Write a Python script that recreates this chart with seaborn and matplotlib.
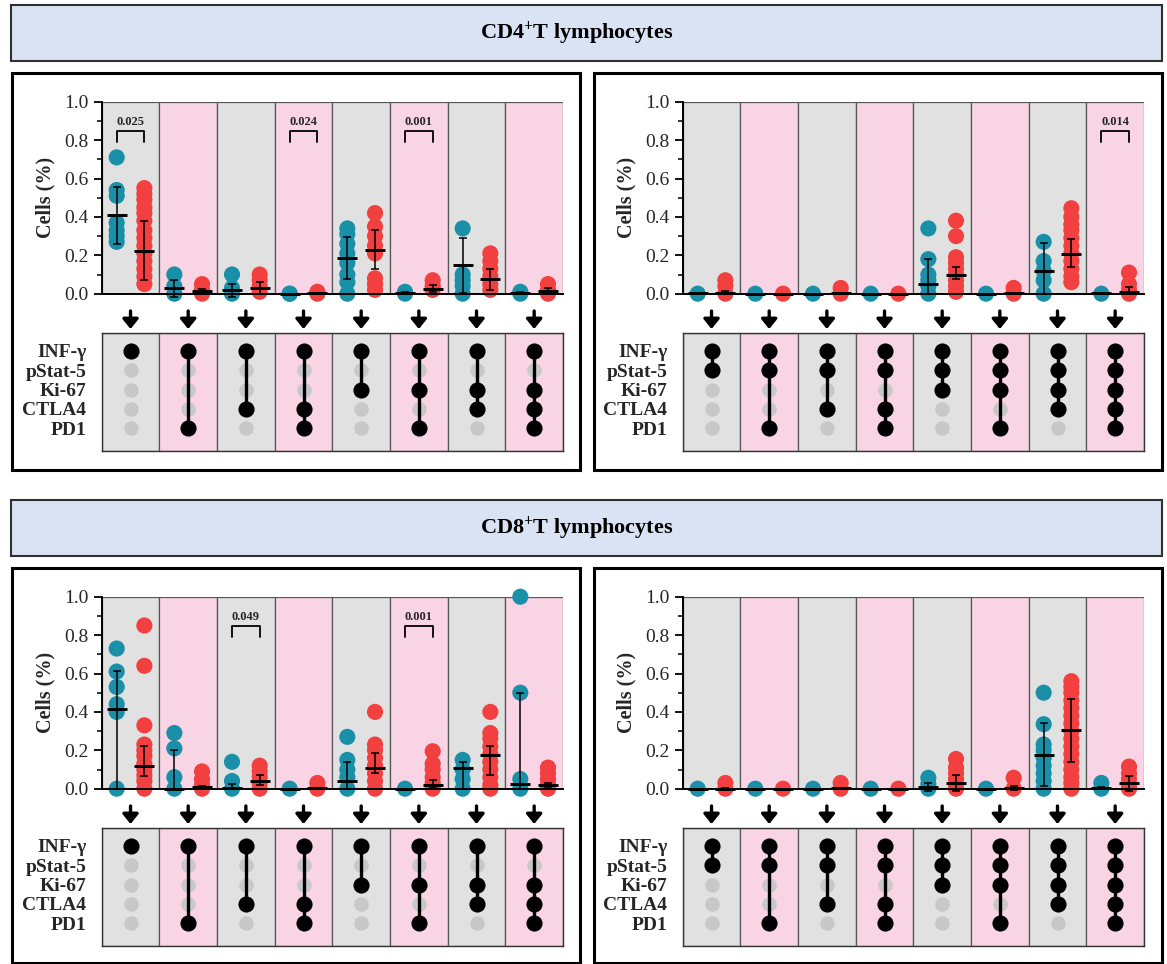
import numpy as np
import pandas as pd
import matplotlib
matplotlib.use("Agg")
import matplotlib.pyplot as plt
from matplotlib.patches import Rectangle
import seaborn as sns

sns.set_style("ticks")
plt.rcParams["font.family"] = ["Liberation Serif", "DejaVu Serif"]
plt.rcParams["mathtext.fontset"] = "custom"
plt.rcParams["mathtext.rm"] = "Liberation Serif:bold"
plt.rcParams["mathtext.it"] = "Liberation Serif:bold"
plt.rcParams["mathtext.bf"] = "Liberation Serif:bold"

TEAL = "#1a90a8"
RED = "#f23f3f"
BG = ["#e1e1e1", "#f9d4e4"]

markers = ["INF-γ", "pStat-5", "Ki-67", "CTLA4", "PD1"]
titles = ["CD4$^{+}$T lymphocytes", "CD8$^{+}$T lymphocytes"]

# marker combinations (INF-γ, pStat-5, Ki-67, CTLA4, PD1)
sets_left = [[1, 0, 0, 0, 0], [1, 0, 0, 0, 1], [1, 0, 0, 1, 0], [1, 0, 0, 1, 1],
             [1, 0, 1, 0, 0], [1, 0, 1, 0, 1], [1, 0, 1, 1, 0], [1, 0, 1, 1, 1]]
sets_right = [[1, 1, 0, 0, 0], [1, 1, 0, 0, 1], [1, 1, 0, 1, 0], [1, 1, 0, 1, 1],
              [1, 1, 1, 0, 0], [1, 1, 1, 0, 1], [1, 1, 1, 1, 0], [1, 1, 1, 1, 1]]

# ---- CD4 left
cd4l_teal = [[0.71, 0.54, 0.51, 0.37, 0.33, 0.30, 0.27], [0.10, 0.04, 0.0], [0.10, 0.03, 0.0], [0.0, 0.0],
             [0.34, 0.31, 0.26, 0.21, 0.16, 0.10, 0.06, 0.0], [0.01, 0.0], [0.34, 0.10, 0.07, 0.04, 0.0], [0.01, 0.0]]
cd4l_red = [[0.55, 0.52, 0.49, 0.45, 0.42, 0.38, 0.33, 0.29, 0.25, 0.21, 0.17, 0.13, 0.09, 0.05],
            [0.05, 0.02, 0.0], [0.10, 0.07, 0.04, 0.01], [0.01, 0.0],
            [0.42, 0.35, 0.30, 0.25, 0.21, 0.08, 0.05, 0.02], [0.07, 0.04, 0.02],
            [0.21, 0.17, 0.13, 0.09, 0.05, 0.02], [0.05, 0.02, 0.0]]
cd4l_teal_stat = [(0.41, 0.26, 0.555), (0.03, -0.015, 0.07), (0.018, -0.015, 0.05), (0.0, 0.0, 0.0),
                  (0.185, 0.075, 0.295), (0.005, 0.0, 0.01), (0.15, 0.005, 0.29), (0.005, 0.0, 0.01)]
cd4l_red_stat = [(0.225, 0.07, 0.38), (0.015, 0.005, 0.025), (0.03, 0.0, 0.06), (0.003, 0.0, 0.006),
                 (0.23, 0.13, 0.33), (0.025, 0.01, 0.043), (0.075, 0.02, 0.13), (0.015, 0.0, 0.03)]
cd4l_p = {0: "0.025", 3: "0.024", 5: "0.001"}

# ---- CD4 right
cd4r_teal = [[0.0], [0.0], [0.0], [0.0], [0.34, 0.18, 0.10, 0.07, 0.04, 0.0], [0.0],
             [0.27, 0.17, 0.12, 0.07, 0.0], [0.0]]
cd4r_red = [[0.07, 0.04, 0.0], [0.0], [0.03, 0.0], [0.0],
            [0.38, 0.30, 0.19, 0.16, 0.13, 0.10, 0.07, 0.04, 0.01], [0.03, 0.0],
            [0.445, 0.40, 0.36, 0.33, 0.29, 0.25, 0.21, 0.17, 0.13, 0.09, 0.06], [0.11, 0.05, 0.02, 0.0]]
cd4r_teal_stat = [(0.002, 0.0, 0.005), (0.0, 0.0, 0.0), (0.0, 0.0, 0.0), (0.0, 0.0, 0.0),
                  (0.053, 0.0, 0.18), (0.0, 0.0, 0.0), (0.12, 0.0, 0.265), (0.002, 0.0, 0.004)]
cd4r_red_stat = [(0.005, 0.0, 0.015), (0.0, 0.0, 0.0), (0.003, 0.0, 0.006), (0.0, 0.0, 0.0),
                 (0.095, 0.075, 0.14), (0.003, 0.0, 0.006), (0.205, 0.14, 0.285), (0.01, 0.0, 0.035)]
cd4r_p = {7: "0.014"}

# ---- CD8 left
cd8l_teal = [[0.73, 0.61, 0.53, 0.44, 0.40, 0.0], [0.29, 0.21, 0.06, 0.0], [0.14, 0.04, 0.0], [0.0],
             [0.27, 0.15, 0.10, 0.06, 0.0], [0.0], [0.15, 0.10, 0.05, 0.0], [1.0, 0.5, 0.05, 0.0]]
cd8l_red = [[0.85, 0.64, 0.33, 0.23, 0.20, 0.17, 0.13, 0.10, 0.07, 0.04, 0.0], [0.09, 0.05, 0.02, 0.0],
            [0.12, 0.09, 0.06, 0.03, 0.0], [0.03, 0.0], [0.40, 0.23, 0.20, 0.16, 0.12, 0.08, 0.04, 0.0],
            [0.195, 0.13, 0.10, 0.06, 0.03, 0.0], [0.40, 0.29, 0.26, 0.22, 0.18, 0.14, 0.10, 0.06, 0.02, 0.0],
            [0.11, 0.08, 0.05, 0.02, 0.0]]
cd8l_teal_stat = [(0.415, 0.0, 0.615), (0.0, 0.0, 0.20), (0.005, 0.0, 0.025), (0.0, 0.0, 0.0),
                  (0.04, 0.0, 0.14), (0.0, 0.0, 0.0), (0.11, 0.0, 0.14), (0.025, 0.0, 0.50)]
cd8l_red_stat = [(0.12, 0.065, 0.225), (0.008, 0.0, 0.015), (0.04, 0.02, 0.07), (0.002, 0.0, 0.004),
                 (0.11, 0.08, 0.185), (0.02, 0.005, 0.045), (0.175, 0.07, 0.22), (0.02, 0.005, 0.03)]
cd8l_p = {2: "0.049", 5: "0.001"}

# ---- CD8 right
cd8r_teal = [[0.0], [0.0], [0.0], [0.0], [0.057, 0.025, 0.0], [0.0],
             [0.50, 0.336, 0.23, 0.20, 0.16, 0.12, 0.08, 0.04, 0.0], [0.03, 0.0]]
cd8r_red = [[0.03, 0.0], [0.0], [0.03, 0.0], [0.0], [0.155, 0.11, 0.08, 0.05, 0.02, 0.0], [0.057, 0.0],
            [0.56, 0.53, 0.50, 0.46, 0.42, 0.38, 0.34, 0.30, 0.26, 0.22, 0.18, 0.14, 0.10, 0.06, 0.03, 0.0],
            [0.115, 0.08, 0.05, 0.02, 0.0]]
cd8r_teal_stat = [(0.0, 0.0, 0.0), (0.0, 0.0, 0.0), (0.0, 0.0, 0.0), (0.0, 0.0, 0.0),
                  (0.01, -0.01, 0.03), (0.0, 0.0, 0.0), (0.175, 0.015, 0.34), (0.005, 0.0, 0.01)]
cd8r_red_stat = [(0.0, 0.0, 0.003), (0.0, 0.0, 0.0), (0.002, 0.0, 0.004), (0.0, 0.0, 0.0),
                 (0.03, -0.01, 0.07), (0.005, -0.005, 0.015), (0.305, 0.14, 0.465), (0.03, -0.01, 0.065)]
cd8r_p = {}

W, H = 1167, 964
fig = plt.figure(figsize=(W / 100, H / 100), dpi=100)


def box(x0, y0, x1, y1):
    return [x0 / W, 1 - y1 / H, (x1 - x0) / W, (y1 - y0) / H]


def fig_rect(x0, y0, x1, y1, **kw):
    fig.add_artist(Rectangle((x0 / W, 1 - y1 / H), (x1 - x0) / W, (y1 - y0) / H,
                             transform=fig.transFigure, **kw))


OFF = 0.24


def draw_panel(dx, dy, teal, red, teal_stat, red_stat, pvals, sets):
    ax = fig.add_axes(box(101.7 + dx, 101.7 + dy, 563 + dx, 293.7 + dy))
    for i in range(8):
        ax.add_patch(Rectangle((i - 0.5, 0), 1, 1, facecolor=BG[i % 2], edgecolor="#555555",
                               lw=0.9, zorder=0))
    rows = []
    for i in range(8):
        rows += [(i - OFF, v, "A") for v in teal[i]]
        rows += [(i + OFF, v, "B") for v in red[i]]
    df = pd.DataFrame(rows, columns=["pos", "value", "group"])
    sns.scatterplot(data=df, x="pos", y="value", hue="group", palette={"A": TEAL, "B": RED},
                    s=135, linewidth=0, legend=False, ax=ax, clip_on=False, zorder=2)
    for stats, sgn in ((teal_stat, -1), (red_stat, 1)):
        xs = np.arange(8) + sgn * OFF
        mid = np.array([s[0] for s in stats])
        lo = np.array([s[1] for s in stats])
        hi = np.array([s[2] for s in stats])
        ax.errorbar(xs, mid, yerr=[mid - lo, hi - mid], fmt="none", ecolor="k", elinewidth=1.1,
                    capsize=3.2, capthick=1.1, zorder=3, clip_on=False)
        ax.plot(xs, mid, ls="none", marker="_", ms=15, mew=2.1, color="k", zorder=4, clip_on=False)
    for i, txt in pvals.items():
        ax.plot([i - OFF, i - OFF, i + OFF, i + OFF], [0.79, 0.845, 0.845, 0.79], color="k", lw=1.3, zorder=4)
        ax.text(i, 0.895, txt, ha="center", va="center", fontsize=9, fontweight="bold")
    ax.set_xlim(-0.5, 7.5)
    ax.set_ylim(0, 1)
    ax.set_xticks([])
    ax.set_yticks(np.arange(0, 1.01, 0.2))
    ax.set_yticklabels([f"{v:.1f}" for v in np.arange(0, 1.01, 0.2)], fontsize=14)
    ax.set_yticks(np.arange(0, 1.01, 0.1), minor=True)
    ax.tick_params(axis="y", which="major", length=6, width=1.3, direction="out", color="k")
    ax.tick_params(axis="y", which="minor", length=3.5, width=1.1, direction="out", color="k")
    ax.set_xlabel("")
    ax.set_ylabel("Cells (%)", fontsize=14.5, fontweight="bold")
    ax.yaxis.set_label_coords(-0.10, 0.5)
    for side in ("top", "right"):
        ax.spines[side].set_visible(False)
    for side in ("left", "bottom"):
        ax.spines[side].set_color("k")
        ax.spines[side].set_linewidth(1.4)

    mx = fig.add_axes(box(101.7 + dx, 333.3 + dy, 563 + dx, 450.7 + dy))
    mx.set_xlim(-0.5, 7.5)
    mx.set_ylim(5.15, -0.9)
    for i in range(8):
        mx.add_patch(Rectangle((i - 0.5, -0.9), 1, 6.05, facecolor=BG[i % 2], edgecolor="#555555",
                               lw=0.9, zorder=0))
        on = [r for r in range(5) if sets[i][r]]
        off = [r for r in range(5) if not sets[i][r]]
        mx.scatter([i] * len(off), off, s=110, color="#c8c8c8", linewidths=0, zorder=1)
        if len(on) > 1:
            mx.plot([i, i], [min(on), max(on)], color="k", lw=2.4, zorder=2)
        mx.scatter([i] * len(on), on, s=135, marker="o", color="k", linewidths=0, zorder=3)
        mx.annotate("", xy=(i, -1.12), xytext=(i, -2.05), annotation_clip=False,
                    arrowprops=dict(arrowstyle="-|>,head_length=0.42,head_width=0.34", color="k",
                                    lw=2.4, mutation_scale=14, shrinkA=0, shrinkB=0))
    mx.set_xticks([])
    mx.set_yticks(range(5))
    mx.set_yticklabels(markers, fontsize=14, fontweight="bold")
    mx.tick_params(axis="y", length=0, pad=11)
    for sp in mx.spines.values():
        sp.set_color("#333333")
        sp.set_linewidth(1.0)


# headers and panel frames
for k, hy in enumerate((5, 500)):
    fig_rect(11, hy, 1162, hy + 56, facecolor="#dae3f3", edgecolor="#303030", lw=1.5)
    fig.text(577 / W, 1 - (hy + 28) / H, titles[k], ha="center", va="center",
             fontsize=16, fontweight="bold", color="k")
for fx in (12, 594):
    for fy0, fy1 in ((73, 470), (568, 963)):
        fig_rect(fx, fy0, fx + 568, fy1, fill=False, edgecolor="k", lw=2.2)

draw_panel(0, 0, cd4l_teal, cd4l_red, cd4l_teal_stat, cd4l_red_stat, cd4l_p, sets_left)
draw_panel(581, 0, cd4r_teal, cd4r_red, cd4r_teal_stat, cd4r_red_stat, cd4r_p, sets_right)
draw_panel(0, 495, cd8l_teal, cd8l_red, cd8l_teal_stat, cd8l_red_stat, cd8l_p, sets_left)
draw_panel(581, 495, cd8r_teal, cd8r_red, cd8r_teal_stat, cd8r_red_stat, cd8r_p, sets_right)

fig.savefig("out.png", dpi=100)
